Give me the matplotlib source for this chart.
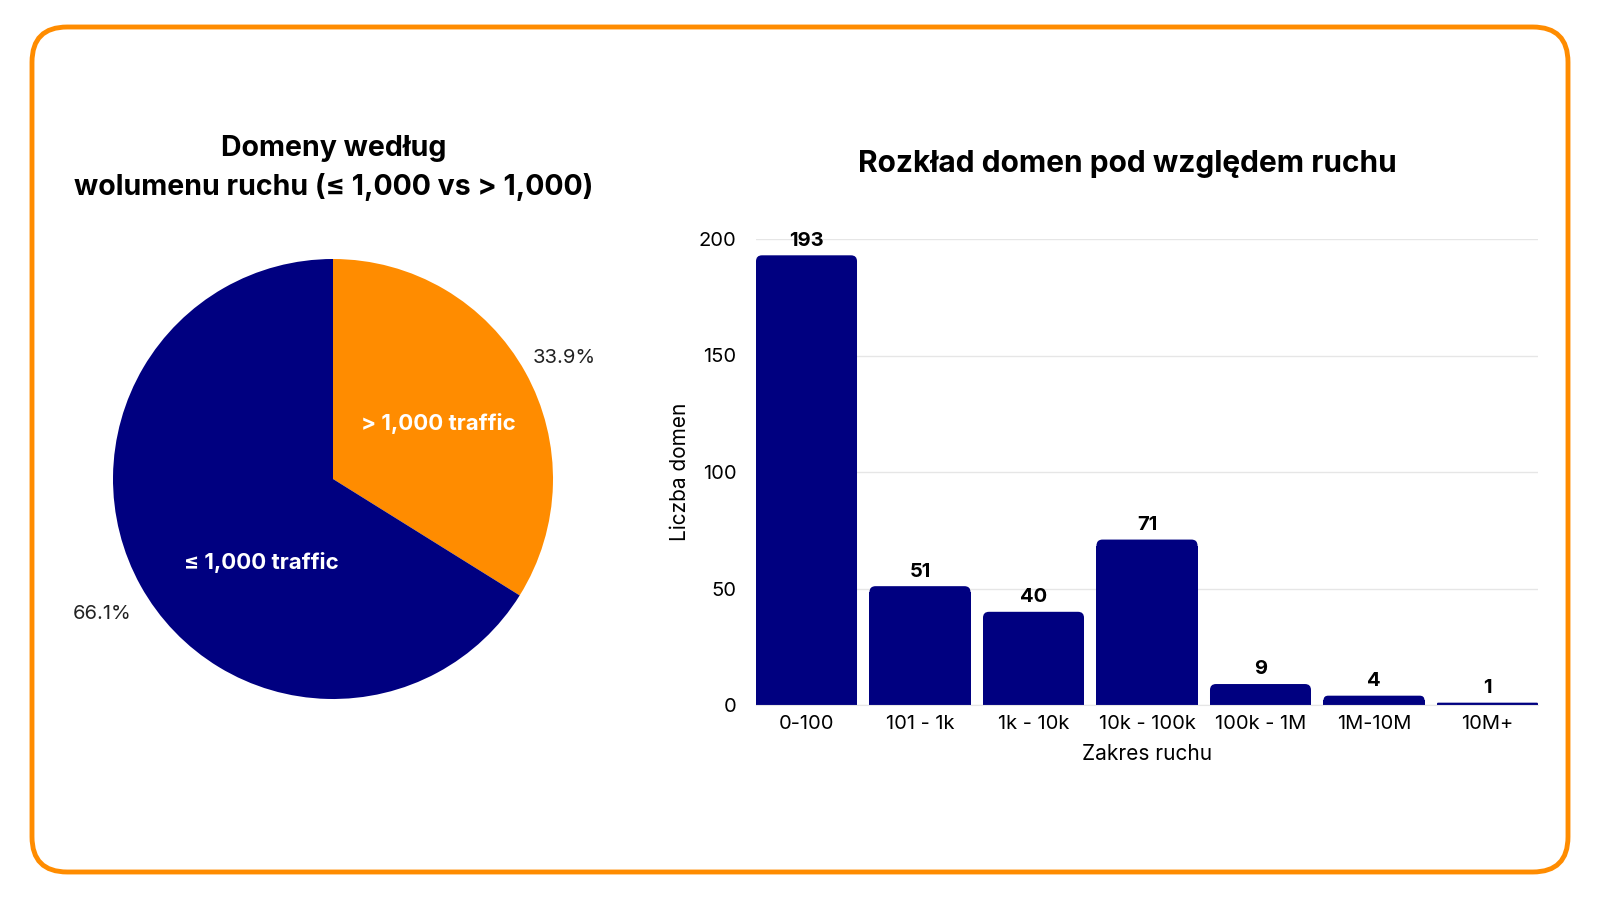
import matplotlib.pyplot as plt
import matplotlib.patches as mpatches
import numpy as np

plt.rcParams['font.family'] = ['Inter', 'DejaVu Sans']

# pie data
pie_labels = ['> 1,000 traffic', '≤ 1,000 traffic']
pie_values = [125, 244]
pie_colors = ['#FF8C00', '#000080']

# bar data
ranges = ['0-100', '101 - 1k', '1k - 10k', '10k - 100k', '100k - 1M', '1M-10M', '10M+']
counts = [193, 51, 40, 71, 9, 4, 1]
yticks = [0, 50, 100, 150, 200]

W, H = 1600, 900
fig = plt.figure(figsize=(16, 9), dpi=100)

# orange rounded frame
frame = mpatches.FancyBboxPatch((32 / W, 1 - 872 / H), 1536 / W, 845 / H,
                                boxstyle='round,pad=0,rounding_size=0.022',
                                mutation_aspect=W / H, transform=fig.transFigure,
                                facecolor='none', edgecolor='#FF8C00', linewidth=3.5,
                                zorder=-1)
fig.patches.append(frame)

# ---- pie ----
cx, cy, r = 333, 479, 220
axp = fig.add_axes([(cx - r) / W, (H - cy - r) / H, 2 * r / W, 2 * r / H])
wedges, _, autotexts = axp.pie(pie_values, colors=pie_colors, startangle=90, counterclock=False,
                               autopct='%1.1f%%', pctdistance=1.2, radius=1,
                               wedgeprops=dict(linewidth=0),
                               textprops=dict(fontsize=14.5, color='#222222'))
for t in autotexts:
    px, py = t.get_position()
    t.set_position((px, py - 0.03))
axp.set_xlim(-1, 1)
axp.set_ylim(-1, 1)
# inside labels
inside = [(28, 0.54), (229.5, 0.5)]
for lab, (ang, d) in zip(pie_labels, inside):
    a = np.deg2rad(ang)
    axp.text(d * np.cos(a), d * np.sin(a), lab, ha='center', va='center',
             color='white', fontsize=16, fontweight='bold')

fig.text(334 / W, 1 - 168 / H, 'Domeny według\nwolumenu ruchu (≤ 1,000 vs > 1,000)',
         ha='center', va='center', fontsize=20.5, fontweight='bold', linespacing=1.5)

# ---- bars ----
ax_w, ax_h = 782, 466
axb = fig.add_axes([756 / W, 1 - 705 / H, ax_w / W, ax_h / H])
x = np.arange(len(ranges))
bars = axb.bar(x, counts, width=0.89, color='#000080', zorder=2)
axb.set_xlim(-0.445, len(ranges) - 0.555)
axb.set_ylim(0, 200)

# rounded top corners
xpp = (len(ranges) - 0.11) / ax_w   # data units per pixel, x
ypp = 200 / ax_h                    # data units per pixel, y
for b in bars:
    h = b.get_height()
    rpx = min(6, h / ypp / 2)
    ry = rpx * ypp
    axb.add_patch(mpatches.FancyBboxPatch((b.get_x(), 0), b.get_width(), h,
                                          boxstyle='round,pad=0,rounding_size=%f' % (rpx * xpp),
                                          mutation_aspect=ypp / xpp, facecolor='#000080',
                                          linewidth=0, zorder=2))
    b.set_height(max(h - ry, 0))

axb.set_yticks(yticks)
axb.set_xticks(x)
axb.set_xticklabels(ranges, fontsize=14.5)
axb.tick_params(axis='y', labelsize=14.5, length=0, pad=14)
axb.tick_params(axis='x', length=0, pad=7)
axb.grid(axis='y', color='#e6e6e6', linewidth=1, zorder=0)
axb.set_axisbelow(True)
for s in ['top', 'right', 'left']:
    axb.spines[s].set_visible(False)
axb.spines['bottom'].set_color('#e6e6e6')

for xi, v in zip(x, counts):
    axb.annotate(str(v), (xi, v), xytext=(0, 4),
                 textcoords='offset points', ha='center', va='bottom',
                 fontsize=14.5, fontweight='bold', annotation_clip=False)

axb.set_xlabel('Zakres ruchu', fontsize=15, labelpad=8)
axb.set_ylabel('Liczba domen', fontsize=15, labelpad=6)
fig.text(1127 / W, 1 - 164 / H, 'Rozkład domen pod względem ruchu',
         ha='center', va='center', fontsize=21.5, fontweight='bold')

fig.savefig('out.png', dpi=100, facecolor='white')
